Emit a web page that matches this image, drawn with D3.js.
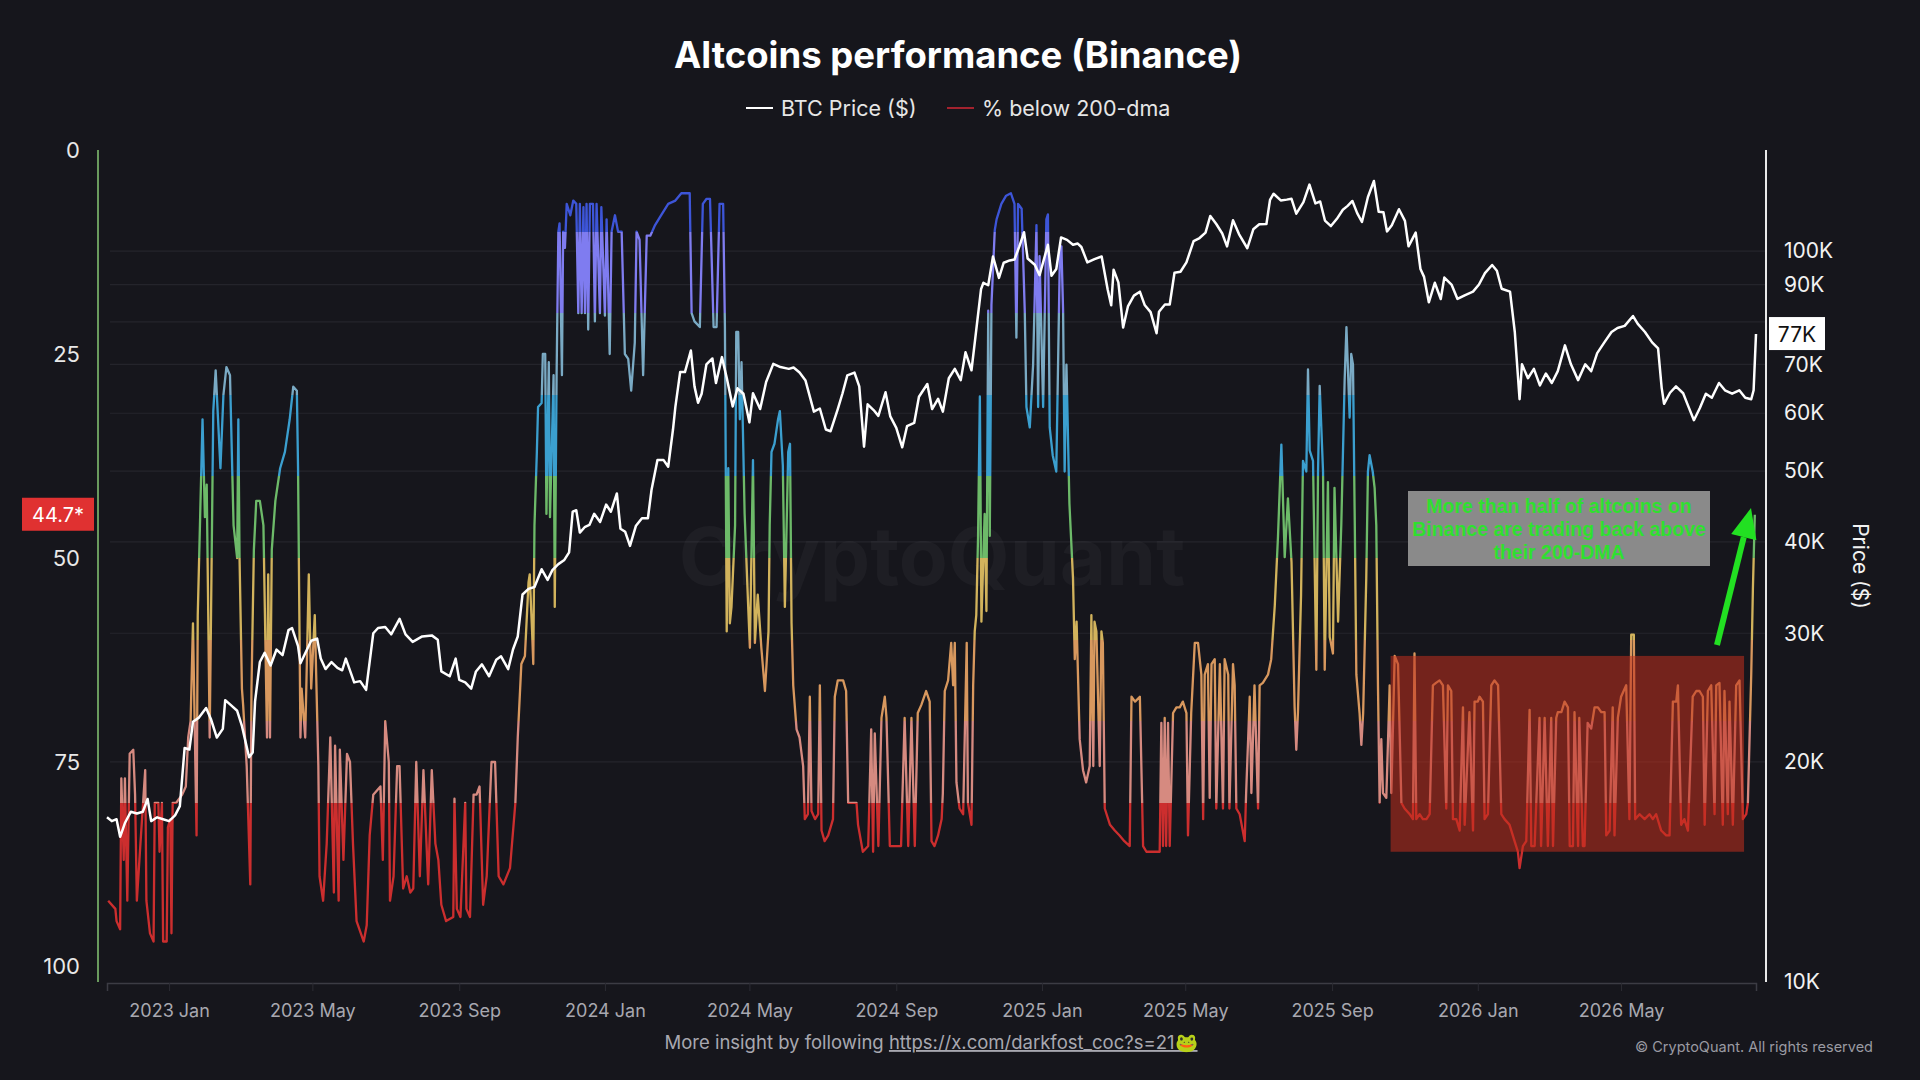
<!DOCTYPE html>
<html>
<head>
<meta charset="utf-8">
<script src="https://cdn.jsdelivr.net/npm/d3@7"></script>
<style>
  html, body { margin: 0; padding: 0; background: #16161c; }
  svg { display: block; }
</style>
</head>
<body>
<svg id="chart"></svg>
<script>
// BTC close price, thousands of $
const btcSeries = [
  ['2022-11-10',16.8],['2022-11-14',16.6],['2022-11-18',16.7],['2022-11-21',15.8],['2022-11-25',16.5],
  ['2022-11-30',17.1],['2022-12-05',17.0],['2022-12-10',17.1],['2022-12-14',17.8],['2022-12-17',16.6],
  ['2022-12-22',16.8],['2022-12-27',16.7],['2023-01-01',16.6],['2023-01-06',16.9],['2023-01-10',17.4],
  ['2023-01-14',20.9],['2023-01-18',20.8],['2023-01-21',22.7],['2023-01-26',23.0],['2023-02-01',23.7],
  ['2023-02-05',22.9],['2023-02-10',21.6],['2023-02-15',22.2],['2023-02-17',24.3],['2023-02-22',23.9],
  ['2023-02-27',23.5],['2023-03-03',22.4],['2023-03-09',20.3],['2023-03-12',20.6],['2023-03-14',24.2],
  ['2023-03-18',27.4],['2023-03-22',28.2],['2023-03-27',27.1],['2023-04-01',28.5],['2023-04-06',28.0],
  ['2023-04-11',30.3],['2023-04-14',30.5],['2023-04-19',28.8],['2023-04-21',27.3],['2023-04-26',28.4],
  ['2023-04-30',29.3],['2023-05-05',29.5],['2023-05-08',27.7],['2023-05-12',26.8],['2023-05-17',27.4],
  ['2023-05-22',26.9],['2023-05-26',26.7],['2023-05-29',27.7],['2023-06-05',25.7],['2023-06-10',25.8],
  ['2023-06-15',25.1],['2023-06-21',30.0],['2023-06-25',30.5],['2023-07-01',30.6],['2023-07-06',29.9],
  ['2023-07-13',31.4],['2023-07-18',29.9],['2023-07-24',29.2],['2023-08-01',29.7],['2023-08-09',29.8],
  ['2023-08-14',29.4],['2023-08-17',26.6],['2023-08-24',26.2],['2023-08-29',27.7],['2023-09-01',25.9],
  ['2023-09-06',25.7],['2023-09-11',25.2],['2023-09-15',26.6],['2023-09-20',27.2],['2023-09-26',26.2],
  ['2023-10-02',27.6],['2023-10-06',27.9],['2023-10-12',26.8],['2023-10-16',28.5],['2023-10-20',29.7],
  ['2023-10-24',33.9],['2023-10-29',34.5],['2023-11-03',34.7],['2023-11-09',36.7],['2023-11-14',35.5],
  ['2023-11-18',36.6],['2023-11-23',37.3],['2023-11-28',37.8],['2023-12-02',38.7],['2023-12-05',44.0],
  ['2023-12-08',44.2],['2023-12-11',41.2],['2023-12-15',41.9],['2023-12-19',42.2],['2023-12-23',43.7],
  ['2023-12-28',42.6],['2024-01-02',45.0],['2024-01-06',44.0],['2024-01-11',46.6],['2024-01-14',41.7],
  ['2024-01-18',41.3],['2024-01-22',39.5],['2024-01-27',42.1],['2024-02-01',43.1],['2024-02-06',43.1],
  ['2024-02-09',47.1],['2024-02-14',51.8],['2024-02-19',51.8],['2024-02-23',50.7],['2024-02-27',57.0],
  ['2024-02-29',61.2],['2024-03-04',68.3],['2024-03-08',68.3],['2024-03-13',73.1],['2024-03-16',65.3],
  ['2024-03-19',62.0],['2024-03-22',63.8],['2024-03-26',70.0],['2024-03-31',71.3],['2024-04-03',66.0],
  ['2024-04-08',71.6],['2024-04-12',67.1],['2024-04-17',61.3],['2024-04-21',64.9],['2024-04-26',63.8],
  ['2024-05-01',58.3],['2024-05-04',63.9],['2024-05-10',60.8],['2024-05-15',66.2],['2024-05-21',70.1],
  ['2024-05-27',69.4],['2024-06-03',69.0],['2024-06-07',69.3],['2024-06-12',68.2],['2024-06-17',66.5],
  ['2024-06-24',60.3],['2024-06-29',60.9],['2024-07-04',57.0],['2024-07-08',56.7],['2024-07-14',60.8],
  ['2024-07-18',63.9],['2024-07-22',67.6],['2024-07-28',68.2],['2024-08-01',65.3],['2024-08-05',54.0],
  ['2024-08-08',61.7],['2024-08-13',60.6],['2024-08-17',59.5],['2024-08-23',64.1],['2024-08-27',59.4],
  ['2024-09-01',57.3],['2024-09-06',53.9],['2024-09-10',57.6],['2024-09-16',58.2],['2024-09-20',63.2],
  ['2024-09-27',65.8],['2024-10-01',60.8],['2024-10-06',62.8],['2024-10-10',60.3],['2024-10-15',67.0],
  ['2024-10-20',69.0],['2024-10-25',66.6],['2024-10-29',72.7],['2024-11-03',68.7],['2024-11-06',75.6],
  ['2024-11-11',88.7],['2024-11-13',90.5],['2024-11-17',89.8],['2024-11-21',98.3],['2024-11-26',91.9],
  ['2024-11-30',96.4],['2024-12-05',97.1],['2024-12-09',97.4],['2024-12-13',101.4],['2024-12-17',106.1],
  ['2024-12-20',97.7],['2024-12-26',95.8],['2024-12-30',92.7],['2025-01-06',102.0],['2025-01-09',92.5],
  ['2025-01-13',94.5],['2025-01-17',104.4],['2025-01-22',103.6],['2025-01-27',102.0],['2025-01-31',102.4],
  ['2025-02-03',101.3],['2025-02-08',96.5],['2025-02-14',97.5],['2025-02-20',98.3],['2025-02-25',88.7],
  ['2025-02-28',84.3],['2025-03-02',94.3],['2025-03-06',90.6],['2025-03-10',78.6],['2025-03-14',84.0],
  ['2025-03-19',86.9],['2025-03-24',88.0],['2025-03-28',84.4],['2025-04-02',82.5],['2025-04-07',77.2],
  ['2025-04-09',82.6],['2025-04-14',84.5],['2025-04-18',84.5],['2025-04-22',93.4],['2025-04-27',93.7],
  ['2025-05-02',96.5],['2025-05-08',103.2],['2025-05-13',104.2],['2025-05-18',106.0],['2025-05-22',111.7],
  ['2025-05-27',108.9],['2025-06-01',105.7],['2025-06-05',101.5],['2025-06-10',110.2],['2025-06-15',105.5],
  ['2025-06-22',100.9],['2025-06-27',107.1],['2025-07-02',108.8],['2025-07-08',108.9],['2025-07-11',117.5],
  ['2025-07-14',119.8],['2025-07-20',117.3],['2025-07-25',117.6],['2025-07-29',117.9],['2025-08-02',112.5],
  ['2025-08-08',116.7],['2025-08-13',123.3],['2025-08-18',116.2],['2025-08-22',116.9],['2025-08-26',110.1],
  ['2025-08-31',108.2],['2025-09-05',110.7],['2025-09-10',113.9],['2025-09-14',115.3],['2025-09-18',117.1],
  ['2025-09-22',112.7],['2025-09-26',109.6],['2025-10-01',118.6],['2025-10-06',124.7],['2025-10-10',113.2],
  ['2025-10-14',113.0],['2025-10-17',106.4],['2025-10-21',108.5],['2025-10-27',114.1],['2025-11-01',110.0],
  ['2025-11-04',101.5],['2025-11-10',106.0],['2025-11-14',94.5],['2025-11-17',92.2],['2025-11-21',85.1],
  ['2025-11-26',90.5],['2025-12-01',86.0],['2025-12-04',92.0],['2025-12-10',90.0],['2025-12-15',86.0],
  ['2025-12-21',87.0],['2025-12-28',88.0],['2026-01-02',90.0],['2026-01-07',93.3],['2026-01-13',95.7],
  ['2026-01-17',94.0],['2026-01-21',88.8],['2026-01-28',88.0],['2026-02-01',77.5],['2026-02-05',62.7],
  ['2026-02-07',70.0],['2026-02-12',67.0],['2026-02-17',69.0],['2026-02-22',65.5],['2026-02-27',68.0],
  ['2026-03-04',66.0],['2026-03-09',68.5],['2026-03-15',74.3],['2026-03-20',70.0],['2026-03-26',66.6],
  ['2026-04-01',70.0],['2026-04-06',68.5],['2026-04-11',72.5],['2026-04-17',75.0],['2026-04-23',77.5],
  ['2026-04-28',78.5],['2026-05-04',79.0],['2026-05-11',81.5],['2026-05-15',79.5],['2026-05-21',77.5],
  ['2026-05-27',75.0],['2026-06-01',73.6],['2026-06-04',65.0],['2026-06-06',61.8],['2026-06-11',64.0],
  ['2026-06-16',65.3],['2026-06-22',63.9],['2026-06-26',61.5],['2026-07-01',58.7],['2026-07-06',61.0],
  ['2026-07-11',63.8],['2026-07-16',63.0],['2026-07-22',66.0],['2026-07-27',64.5],['2026-08-02',63.8],
  ['2026-08-08',64.5],['2026-08-13',63.0],['2026-08-18',62.7],['2026-08-20',64.5],['2026-08-22',77.0]
];

// % of altcoins below their 200-dma: [days since pctStart, value]
const pctStart = '2022-11-10';
const pctSeries = [
  [1,92],[7,93],[8,94.5],[11,95.5],[12,77],[14,87],[15,77],[17,92],[19,74],[22,73.5],[23.5,79],[25,92],
  [28,85],[32,76],[33,92],[36,96],[39,97],[40,80],[43,80],[44,86],[46,80],[47,97],[50,97],[51,83],[53,82],
  [54,96],[55,80],[58,80],[63,79],[66,78],[68,72],[70,70],[72,58],[75,84],[76,57],[78,45],[80,33],[82,45],
  [83.5,41],[86,72],[89,32],[91,27],[95,39],[97.5,30],[100,26.6],[103,27.6],[106,46],[109,50],[110,33],
  [111,50],[113,66],[114,68],[117,75.5],[120,90],[121,66],[123,49],[125,43],[128,43],[131,46],[134,72],
  [135,52],[136.5,72],[138,49],[141,43],[145,39],[149,37],[153,33],[156,29],[159,29.5],[160,39],[162,72],
  [163,66],[166,72],[169,52],[171,66],[174,57],[177,75.5],[178,89],[181,92],[184,85],[187,72],[190,91],
  [191,73],[194,92],[195,73.5],[198,87],[201,74],[203.5,75],[206,85],[209,94.5],[215,97],[217.5,95],
  [220,84],[223,79],[229,78],[231,87],[233,70],[236,75],[237,92],[240,89],[243,75.5],[245,75.5],[248,90.5],
  [251,89],[254,91],[256.5,90.5],[259,75],[262,89],[265,76],[269,90],[272,76],[275,85],[277.5,87],
  [280,92.5],[284,94.5],[290,94],[291,79.5],[293,93],[296,94],[300,80],[301,93],[304,94],[307,79],
  [309.5,79],[312,78],[315,92.5],[318,89],[322,75],[325,75],[328,89],[332,90],[337.5,88],
  [342,80],[344,72],[347,63],[350,62],[353,53],[354,52],[356,59],[357,63],[358,46],[360,37],[361,31.5],
  [364,31],[365,25],[367,25],[368,44.6],[370,26],[371,45],[374,27.6],[375,56],[376.5,28],[378,10],[379,9],
  [381,27.6],[382,10],[383.5,12],[385,6.6],[388,8],[390.5,6.2],[393,6.6],[394.7,20],[396,6.6],[397.5,20],
  [399,7],[400.3,20],[401.6,6.6],[403,22],[404.4,6.6],[407,6.6],[408.6,21],[410,6.6],[412.8,20],[414,7],
  [417,20.3],[418.4,8.5],[421,25],[422.6,10],[425.4,8],[428,10],[431,10],[433.7,25],[436.5,25.6],
  [439,29.5],[442,23.6],[443.5,10],[446,11],[449,27.6],[452,10.5],[455,10.5],[459,9.2],[464,8],[470,6.6],
  [476,6.2],[481,5.3],[485,5.3],[488,5.3],[489.6,20],[492,21],[496.5,21.7],[499,6.6],[502,6],[505,6],
  [508,21.7],[510.5,21.7],[513,6.6],[516,6.6],[517.5,21.7],[519,59],[520.3,39],[521.6,58],[523,56],
  [526,46],[527,22.3],[528.6,22.3],[530,33],[531.4,26],[534,44.6],[537,56],[538.4,61],[541,38],
  [542.6,60.4],[545,54.5],[548,61],[551,66.3],[554,59],[555,46],[556.5,37],[559,36],[562,33],[563.5,32],
  [566,38.7],[567.7,56],[570.5,37],[572,36],[573.3,58],[574.7,65.6],[577.5,71],[580,72],[583,75.5],
  [584.4,82],[587,81.4],[588.6,67],[590,81],[593,82],[595.6,81.4],[597,65.6],[598.4,83.4],[601,84.7],
  [604,84],[608,82],[609.5,67],[612,65],[616.5,65],[619,66.3],[620.7,80],[623.5,80],[627.7,80],[629,82.7],
  [633,86],[637.5,85.3],[640,71],[641.6,86],[643,71.5],[646,85.3],[648.6,69.6],[651.4,67],[652.8,69.6],
  [655.6,85.3],[660,85.3],[665,85.3],[668,69.6],[671,85.3],[673.7,69.6],[676.5,85.3],[679,69],[682,68],
  [686,66.3],[689,67.6],[690.5,84.7],
  [693,85.3],[696,84],[699,82],[700,78.8],[701.6,66.3],[704.4,65],[707,60.4],[708.6,65.6],[710,60.4],
  [711.4,77.5],[714,80.7],[717,81.4],[720,60.4],[721,80],[724,82.7],[725.4,65.6],[726.7,59],[728,57],
  [729.5,47.3],[731,30.2],[732.3,57.8],[735,44.6],[736.5,56.5],[738,19.7],[739.3,47.3],[740.7,19],
  [743.5,9.8],[745,8.5],[749,6.6],[753,5.6],[757,5.3],[760,6.6],[761.6,23],[763,6.6],[766,7.2],
  [768.6,19.7],[770,31.5],[772.8,34],[775.6,26.3],[778.4,9.2],[779.8,31.5],[781,13],[784,31.5],
  [786.7,8.5],[788,7.9],[789.5,34],[792,37.4],[795,39.4],[798,13],[799.3,11.8],[800.7,19.7],[802,39.4],
  [803.5,26.3],[806,43.3],[809,52.5],[810.5,62.4],[812,57.8],[814.6,72.2],[817.4,76],[820,77.5],
  [823,75.5],[824.4,57],[826,75.5],[827,57.8],[828.6,59],[831.4,75.5],[832.8,59],[834,60.4],[835.6,80.7],
  [840,82.7],[844,83.4],[848,84],[852,84.7],[856.5,85.3],[858,67],[861,67.6],[865,67],[867.7,85.3],
  [870.5,86],[876,86],[881.6,86],[883,70.2],[884.4,85.3],[885.8,69.6],[887,85.3],[888.6,70.2],[890,85.3],
  [892.8,69],[895.6,68.3],[898.4,68.3],[901,67.6],[904,69],[905.3,84],[908,69],[911,60.4],[913.7,60.4],
  [916.5,64.3],[918,82],[919.3,64.3],[922,63],[923.5,79.4],[925,63],[927.7,62.4],[929,80.7],[932,63],
  [934.6,80.7],[936,62.4],[939,64.3],[940,80.7],[943,63],[944.4,65.6],[945.8,80.7],[948.6,81.4],
  [952.8,84.7],[954,78.8],[957,67],[958.4,78.8],[961,65.6],[964,80.7],[965.3,65.6],[968,65.3],
  [972.3,64.3],[975,62.4],[978,55.8],[980.7,47.3],[983.5,36.1],[986.3,49.9],[989,42.7],[992,50.5],
  [994.6,68.3],[996,73.5],[997.4,68.9],[1000,54.5],[1001.6,38.1],[1004.4,39.4],[1005.8,26.9],[1007.2,36.8],
  [1010,38.1],[1012.8,63.7],[1014.2,39.4],[1015.6,28.9],[1018.4,39.4],[1019.8,63.7],[1022.5,40.7],
  [1024,59.7],[1026.7,61.7],[1028,41.4],[1031,57.8],[1033.7,45.9],[1036.5,28.2],[1038,21.7],
  [1040.7,32.8],[1042,25],[1043.5,26.3],[1045,46],[1046.3,64.3],[1049,69],[1050.5,72.9],[1052,69],
  [1054.6,52.5],[1056,39.4],[1057.4,37.4],[1060,39.4],[1061.6,41.4],[1063,46],[1064.4,65.6],[1065.8,80],
  [1067.2,72.2],[1068.6,78.8],[1071.4,79.4],[1074.2,65.6],[1075.6,78.8],[1078.4,62],[1081.2,63],[1084,80],
  [1086.7,80.7],[1091,81.4],[1093.7,82],[1095,61.7],[1096.5,82],[1099.3,81.4],[1102,82],[1105,82],
  [1107.7,81.4],[1110.4,65.6],[1113,65.3],[1116,65],[1118.8,65.6],[1121.6,80.7],[1123,65.6],[1125.8,66.3],
  [1127.2,82],[1130,82],[1132.8,83.4],[1135.6,68.3],[1137,82.7],[1141,68.9],[1144,83.4],[1145.3,67.6],
  [1148,67.6],[1149.5,67],[1152.3,67.6],[1153.7,82],[1156.5,81.4],[1159.3,65.6],[1162,65],[1165,65.6],
  [1167.7,81.4],[1170.4,82],[1174.6,82.7],[1178.8,84.7],[1181.6,86],[1183,88],[1185.8,85.3],[1188.6,84.7],
  [1191.4,68.6],[1192.8,85.3],[1195.6,85.3],[1199.7,69.6],[1201,85.3],[1204,69.6],[1206.7,85.3],
  [1209.5,69.6],[1211,85.3],[1213.7,69.6],[1215,68.9],[1218,68.9],[1220.7,67.6],[1223.5,68.3],[1225,85.3],
  [1227.7,85.3],[1229,68.9],[1232,85.3],[1233,69.6],[1236,85.3],[1237.4,85.3],[1240,70.2],[1243,70.9],
  [1245.8,68.3],[1248.6,68.3],[1251.4,68.9],[1254.2,68.9],[1255.6,84],[1258.4,83.4],[1261,68.3],
  [1262.5,84],[1265.3,69.6],[1268,67],[1272.3,65.6],[1275,82],[1276.5,59.4],[1278.7,59.4],[1279.8,82],
  [1283.5,81.4],[1287.7,82],[1291.8,81.4],[1294.6,82],[1297.4,81.4],[1301.6,83.4],[1305.8,84],[1308.6,84],
  [1311.4,67.6],[1314.2,67.6],[1315.6,65.6],[1318.3,82.7],[1321,82],[1324,83.4],[1328,67],[1331,66.3],
  [1333.7,66.3],[1336.5,67],[1338,82.7],[1340.7,66.3],[1343.5,65.6],[1346.3,81.4],[1347.7,65.6],
  [1350.4,65.3],[1353.2,82.7],[1354.6,66.3],[1357.4,81.4],[1358.8,67.6],[1361.6,82.7],[1364.4,65.6],
  [1367.2,65],[1370,82],[1372.8,81.4],[1374.2,80],[1377,64.3],[1378.4,53.8],[1380,44.7]
];

// colour bands of the % line: [from, to, colour]
const pctBands = [
  [0, 10, '#3d55d8'], [10, 20, '#7f7cf0'], [20, 30, '#7aaac4'], [30, 40, '#3b9fcf'],
  [40, 50, '#6dba69'], [50, 60, '#d2b35c'], [60, 70, '#d8985e'], [70, 80, '#d68a80'],
  [80, 100, '#cc2e2e']
];

const leftTicks = [0, 25, 50, 75, 100];
const priceLabelTicks = [10000, 20000, 30000, 40000, 50000, 60000, 70000, 90000, 100000];
const priceGridTicks = [20000, 30000, 40000, 50000, 60000, 70000, 80000, 90000, 100000];
const xDomain = ['2022-11-10', '2026-08-22'];
const highlightDates = ['2025-10-20', '2026-08-12'];
const highlightRange = [62, 86];
const noteLines = ['More than half of altcoins on', 'Binance are trading back above', 'their 200-DMA'];

const W = 1920, H = 1080;
const parse = d3.utcParse('%Y-%m-%d');
const startDay = parse(pctStart);

const btc = btcSeries.map(d => ({date: parse(d[0]), price: d[1] * 1000}));
const pct = pctSeries.map(d => ({date: new Date(startDay.getTime() + d[0] * 864e5), value: d[1]}));

const svg = d3.select('#chart').attr('width', W).attr('height', H);
svg.append('rect').attr('width', W).attr('height', H).attr('fill', '#16161c');

let xScale = d3.scaleUtc().domain(xDomain.map(parse)).range([107, 1756]);
let yPct = d3.scaleLinear().domain([0, 100]).range([150, 966]);
let yPrice = d3.scaleLog().domain([10000, 137500]).range([982, 150]);

// gradient for the % line, hard steps per band
let grad = svg.append('defs').append('linearGradient')
    .attr('id', 'pctGrad')
    .attr('gradientUnits', 'userSpaceOnUse')
    .attr('x1', 0).attr('x2', 0)
    .attr('y1', yPct(0)).attr('y2', yPct(100));
pctBands.forEach(function (b) {
    grad.append('stop').attr('offset', b[0] / 100).attr('stop-color', b[2]);
    grad.append('stop').attr('offset', b[1] / 100).attr('stop-color', b[2]);
});

// grid lines at price ticks
svg.append('g').selectAll('line')
    .data(priceGridTicks)
    .enter().append('line')
    .attr('x1', 110).attr('x2', 1766)
    .attr('y1', d => yPrice(d)).attr('y2', d => yPrice(d))
    .attr('stroke', '#24242b').attr('stroke-width', 1.2);

// watermark
svg.append('text')
    .attr('x', 932).attr('y', 585)
    .attr('text-anchor', 'middle')
    .style('font-family', 'Inter, Roboto, sans-serif')
    .style('font-weight', 700).style('font-size', '80px')
    .attr('fill', '#ffffff').attr('fill-opacity', 0.035)
    .text('CryptoQuant');

// title & legend
svg.append('text')
    .attr('x', 958).attr('y', 68).attr('text-anchor', 'middle')
    .style('font-family', 'Inter, Roboto, sans-serif')
    .style('font-weight', 700).style('font-size', '36.5px')
    .attr('fill', '#ffffff')
    .text('Altcoins performance (Binance)');

let legend = svg.append('g').style('font-family', 'Inter, Roboto, sans-serif').style('font-size', '21.5px');
legend.append('line').attr('x1', 746).attr('x2', 773).attr('y1', 108).attr('y2', 108)
    .attr('stroke', '#ffffff').attr('stroke-width', 2);
legend.append('text').attr('x', 781).attr('y', 116).attr('fill', '#e6e6e6').text('BTC Price ($)');
legend.append('line').attr('x1', 947).attr('x2', 974).attr('y1', 108).attr('y2', 108)
    .attr('stroke', '#a3222e').attr('stroke-width', 2);
legend.append('text').attr('x', 982).attr('y', 116).attr('fill', '#e6e6e6').text('% below 200-dma');

// bottom axis
let xAxis = d3.axisBottom(xScale)
    .ticks(d3.utcMonth.every(4))
    .tickFormat(d3.utcFormat('%Y %b'))
    .tickSize(8).tickPadding(13);
let gx = svg.append('g').attr('transform', 'translate(0,983)').call(xAxis);
gx.select('.domain').attr('stroke', '#3c3c44').attr('stroke-width', 1.5);
gx.selectAll('.tick line').attr('stroke', '#2c2c33');
gx.selectAll('.tick text')
    .style('font-family', 'Inter, Roboto, sans-serif').style('font-size', '18px')
    .attr('fill', '#a8a8b0');

// left axis
let gl = svg.append('g').attr('transform', 'translate(98,0)')
    .call(d3.axisLeft(yPct).tickValues(leftTicks).tickSize(0).tickPadding(18));
gl.select('.domain').remove();
gl.selectAll('.tick text')
    .style('font-family', 'Inter, Roboto, sans-serif').style('font-size', '22px')
    .attr('fill', '#e8e8e8');
svg.append('line').attr('x1', 98).attr('x2', 98).attr('y1', 150).attr('y2', 982)
    .attr('stroke', '#6a9a5e').attr('stroke-width', 2);

// right axis
let gr = svg.append('g').attr('transform', 'translate(1766,0)')
    .call(d3.axisRight(yPrice).tickValues(priceLabelTicks).tickSize(0).tickPadding(18)
        .tickFormat(d => (d / 1000) + 'K'));
gr.select('.domain').remove();
gr.selectAll('.tick text')
    .style('font-family', 'Inter, Roboto, sans-serif').style('font-size', '21px')
    .attr('fill', '#f2f2f2');
svg.append('line').attr('x1', 1766).attr('x2', 1766).attr('y1', 150).attr('y2', 982)
    .attr('stroke', '#e8e8e8').attr('stroke-width', 2);

svg.append('text')
    .attr('transform', 'translate(1853,566) rotate(90)')
    .attr('text-anchor', 'middle')
    .style('font-family', 'Inter, Roboto, sans-serif').style('font-size', '21px')
    .attr('fill', '#f2f2f2')
    .text('Price ($)');

// % below 200-dma line
let pctLine = d3.line().x(d => xScale(d.date)).y(d => yPct(d.value));
svg.append('path')
    .datum(pct)
    .attr('d', pctLine)
    .attr('fill', 'none')
    .attr('stroke', 'url(#pctGrad)')
    .attr('stroke-width', 2.3)
    .attr('stroke-linejoin', 'round');

// highlighted range
svg.append('rect')
    .attr('x', xScale(parse(highlightDates[0])))
    .attr('width', xScale(parse(highlightDates[1])) - xScale(parse(highlightDates[0])))
    .attr('y', yPct(highlightRange[0]))
    .attr('height', yPct(highlightRange[1]) - yPct(highlightRange[0]))
    .attr('fill', '#c2301e').attr('fill-opacity', 0.55);

// BTC price line
let priceLine = d3.line().x(d => xScale(d.date)).y(d => yPrice(d.price));
svg.append('path')
    .datum(btc)
    .attr('d', priceLine)
    .attr('fill', 'none')
    .attr('stroke', '#ffffff')
    .attr('stroke-width', 2.5)
    .attr('stroke-linejoin', 'round');

// last value badges
let lastPct = pct[pct.length - 1];
let yBadge = yPct(lastPct.value);
svg.append('rect').attr('x', 22).attr('y', yBadge - 17).attr('width', 72).attr('height', 33)
    .attr('fill', '#e03131');
svg.append('text').attr('x', 58).attr('y', yBadge + 7).attr('text-anchor', 'middle')
    .style('font-family', 'Inter, Roboto, sans-serif').style('font-size', '20px')
    .attr('fill', '#ffffff').text(lastPct.value.toFixed(1) + '*');

let lastBtc = btc[btc.length - 1];
let yB = yPrice(lastBtc.price);
svg.append('rect').attr('x', 1769).attr('y', yB - 17).attr('width', 56).attr('height', 33)
    .attr('fill', '#ffffff');
svg.append('text').attr('x', 1797).attr('y', yB + 8).attr('text-anchor', 'middle')
    .style('font-family', 'Inter, Roboto, sans-serif').style('font-size', '21px')
    .attr('fill', '#111111').text(Math.round(lastBtc.price / 1000) + 'K');

// annotation
svg.append('rect').attr('x', 1408).attr('y', 491).attr('width', 302).attr('height', 75)
    .attr('fill', '#8a8a8a');
noteLines.forEach(function (t, i) {
    svg.append('text')
        .attr('x', 1559).attr('y', 513 + i * 23)
        .attr('text-anchor', 'middle')
        .style('font-family', '"Liberation Sans", Arial, sans-serif')
        .style('font-weight', 700).style('font-size', '19.5px')
        .attr('fill', '#2fe02f')
        .text(t);
});

// arrow
let tail = [1717, 645], tip = [1751, 508];
let dx = tip[0] - tail[0], dy = tip[1] - tail[1];
let len = Math.sqrt(dx * dx + dy * dy);
let ux = dx / len, uy = dy / len, px = -uy, py = ux;
let base = [tip[0] - 30 * ux, tip[1] - 30 * uy];
svg.append('line')
    .attr('x1', tail[0]).attr('y1', tail[1]).attr('x2', base[0]).attr('y2', base[1])
    .attr('stroke', '#22e022').attr('stroke-width', 6);
svg.append('polygon')
    .attr('points', [
        tip,
        [base[0] + 13 * px, base[1] + 13 * py],
        [base[0] - 13 * px, base[1] - 13 * py]
    ].map(p => p.join(',')).join(' '))
    .attr('fill', '#22e022');

// footer
let foot = svg.append('text').attr('x', 931).attr('y', 1049).attr('text-anchor', 'middle')
    .style('font-family', 'Inter, Roboto, sans-serif').style('font-size', '18.5px')
    .attr('fill', '#a8a8b0');
foot.append('tspan').text('More insight by following ');
foot.append('tspan').style('text-decoration', 'underline').text('https://x.com/darkfost_coc?s=21🐸');

svg.append('text').attr('x', 1873).attr('y', 1052).attr('text-anchor', 'end')
    .style('font-family', 'Inter, Roboto, sans-serif').style('font-size', '14.5px')
    .attr('fill', '#9a9aa2')
    .text('© CryptoQuant. All rights reserved');
</script>
</body>
</html>
